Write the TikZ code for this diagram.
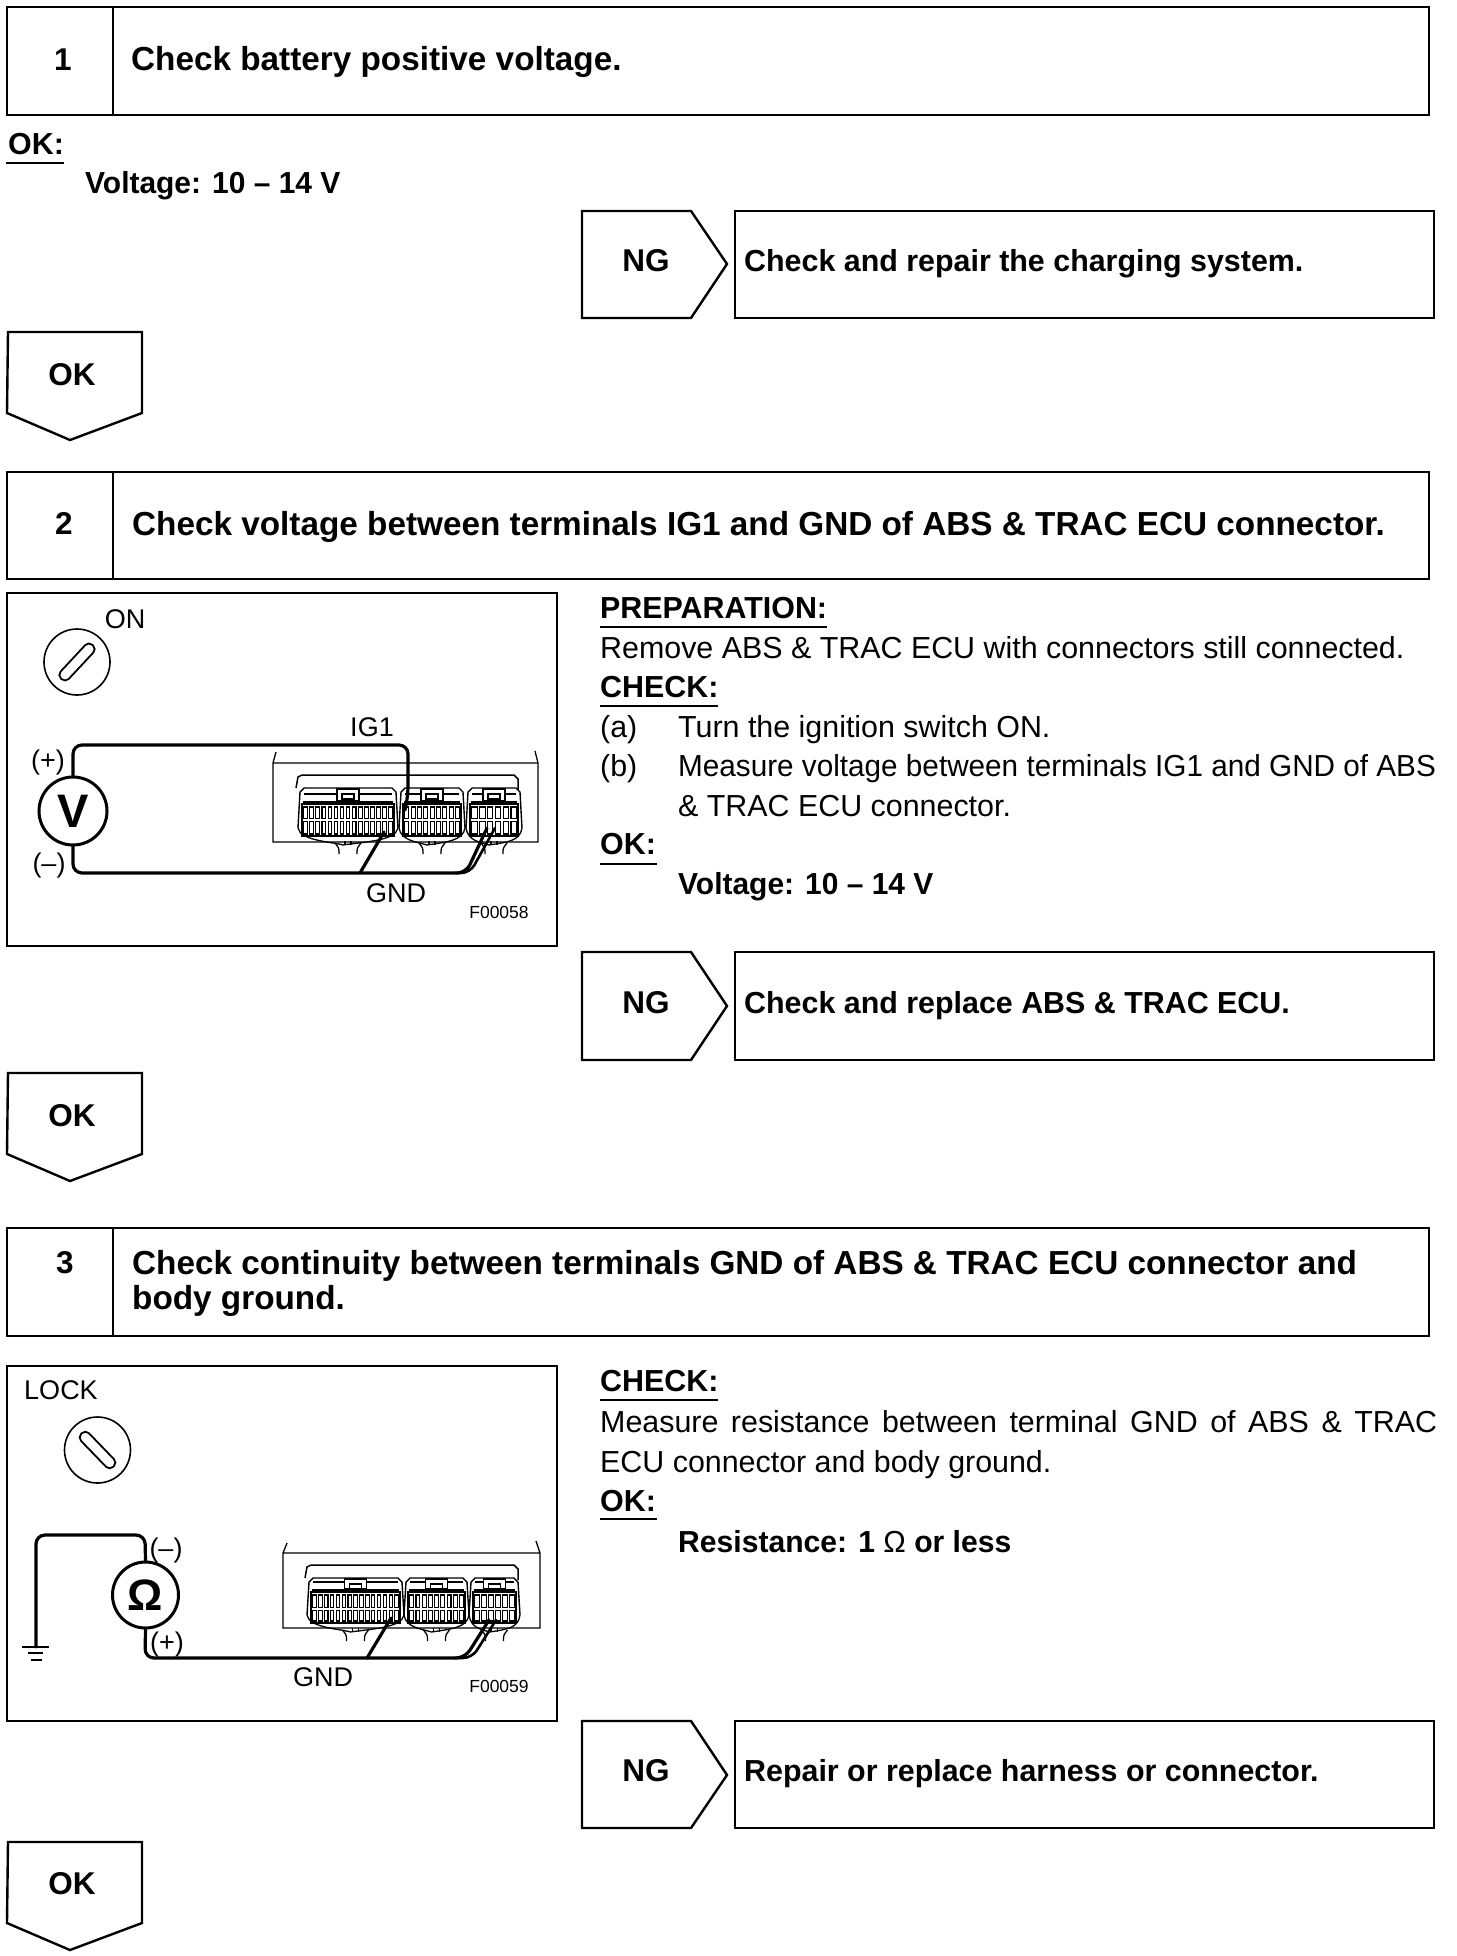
\documentclass[tikz,border=0pt]{standalone}
\usepackage{fontspec}
\setmainfont{Liberation Sans}
\begin{document}
\newcommand\fsz[1]{\fontsize{#1}{#1}\selectfont}
\newcommand\conn[7]{% xl xr ytop yrow ymid ybot n
  \draw[ink,line width=1.4] (#1-2,#6-8) -- (#1,#3+4) -- (#1+4,#3) -- (#2-4,#3) -- (#2,#3+4) -- (#2+2,#6-8);
  \draw[ink,line width=2.4] (#1+3,#4-4) -- (#2-3,#4-4);
  \draw[ink,line width=1.2] (#1+4,#4-12) -- (#2-4,#4-12);
  \pgfmathsetmacro\cmid{#1+0.5*(#2-#1)}
  \draw[ink,line width=1.2,fill=white] (\cmid-11,#3+1) rectangle (\cmid+11,#4-5);
  \draw[ink,line width=1.3] (\cmid-6,#3+6) rectangle (\cmid+6,#3+11);
  \draw[ink,line width=1.4] (#1+2,#4-2) rectangle (#2-2,#6);
  \foreach \i in {1,...,#7} {
    \pgfmathsetmacro\xa{#1+3.8+(\i-1)*(#2-#1-5)/#7}
    \pgfmathsetmacro\xb{#1+1.4+\i*(#2-#1-5)/#7}
    \draw[ink,line width=1.1] (\xa,#4+1) rectangle (\xb,#5-1.5);
    \draw[ink,line width=1.1] (\xa,#5+1.5) rectangle (\xb,#6-2);
  }
  \draw[ink,line width=1.3] (#1-2,#6-8) .. controls (#1,#6+5) and (\cmid-14,#6+6) .. (\cmid-5,#6+9)
     .. controls (\cmid+14,#6+6) and (#2,#6+5) .. (#2+2,#6-8);
  \draw[ink,line width=1.3] (\cmid-9,#6+18) .. controls (\cmid-9,#6+12) .. (\cmid-13,#6+7);
  \draw[ink,line width=1.3] (\cmid+9,#6+18) .. controls (\cmid+9,#6+12) .. (\cmid+13,#6+7);
  \draw[ink,line width=1.2] (\cmid-3,#6+9) -- (\cmid-3,#6+5) (\cmid+3,#6+9) -- (\cmid+3,#6+5);
}
\begin{tikzpicture}[x=1pt,y=-1pt,
  ink/.style={black},
  frame/.style={draw=black,line width=2.6,line join=miter},
  txt/.style={inner sep=0,anchor=west,text height=22pt,text depth=0pt,font=\fsz{30.4}},
  head/.style={inner sep=0,anchor=west,text height=24pt,text depth=0pt,font=\fsz{33.3}\bfseries},
  bold/.style={inner sep=0,anchor=west,text height=22pt,text depth=0pt,font=\fsz{30.4}\bfseries},
  tag/.style={inner sep=0,text height=23pt,text depth=0pt,font=\fsz{31.5}\bfseries},
  lab/.style={inner sep=0,text height=19.5pt,text depth=0pt,font=\fsz{27}},
  fig/.style={inner sep=0,text height=12pt,text depth=0pt,font=\fsz{17.5}},
  wire/.style={draw=black,line width=3.2,rounded corners=9,line cap=round},
  meter/.style={draw=black,line width=3,circle,inner sep=0,minimum size=68,font=\fsz{47}\bfseries},
  keyc/.style={draw=black,line width=1.6,circle,inner sep=0,minimum size=66},
  slot/.style={draw=black,line width=1.8,rectangle,rounded corners=5,inner sep=0,minimum width=46,minimum height=11},
  uline/.style={draw=black,line width=1.8}]
\useasboundingbox (0,0) rectangle (1456,1956);
\fill[white] (0,0) rectangle (1456,1956);

% ---- step headers
\draw[frame] (7,7) rectangle (1429,115) (113,7) -- (113,115);
\node[tag] (n1) at (63,59) {1};
\node[head] (t1) at (131,59) {Check battery positive voltage.};
\draw[frame] (7,472) rectangle (1429,579) (113,472) -- (113,579);
\node[tag] (n2) at (64,523) {2};
\node[head] (t2) at (132,523) {Check voltage between terminals IG1 and GND of ABS \& TRAC ECU connector.};
\draw[frame] (7,1228) rectangle (1429,1336) (113,1228) -- (113,1336);
\node[tag] (n3) at (65,1262) {3};
\node[head] (t3a) at (132,1262) {Check continuity between terminals GND of ABS \& TRAC ECU connector and};
\node[head] (t3b) at (132,1297) {body ground.};

% ---- step 1 text
\node[bold] (ok1) at (8,143) {OK:};
\draw[uline] (6,163) -- (64,163);
\node[bold] (v1) at (85,182) {\scalebox{.985}[1]{Voltage: 10 -- 14 V}};

% ---- NG arrows and result boxes
\draw[frame,line width=2.4] (582,211) -- (691,211) -- (727,264) -- (691,318) -- (582,318) -- cycle;
\node[tag] (ng1) at (646,260) {NG};
\draw[frame] (735,211) rectangle (1434,318);
\node[bold] (r1) at (744,260) {Check and repair the charging system.};

\draw[frame,line width=2.4] (582,952) -- (691,952) -- (727,1006) -- (691,1060) -- (582,1060) -- cycle;
\node[tag] (ng2) at (646,1002) {NG};
\draw[frame] (735,952) rectangle (1434,1060);
\node[bold] (r2) at (744,1002) {Check and replace ABS \& TRAC ECU.};

\draw[frame,line width=2.4] (582,1721) -- (691,1721) -- (727,1775) -- (691,1828) -- (582,1828) -- cycle;
\node[tag] (ng3) at (646,1770) {NG};
\draw[frame] (735,1721) rectangle (1434,1828);
\node[bold] (r3) at (744,1770) {Repair or replace harness or connector.};

% ---- OK arrows
\draw[frame,line width=2.4] (8,332) -- (142,332) -- (142,413) -- (70,440) -- (7,413) -- cycle;
\node[tag] (ok1b) at (72,374) {OK};
\draw[frame,line width=2.4] (8,1073) -- (142,1073) -- (142,1154) -- (70,1181) -- (7,1154) -- cycle;
\node[tag] (ok2b) at (72,1115) {OK};
\draw[frame,line width=2.4] (8,1842) -- (142,1842) -- (142,1923) -- (70,1950) -- (7,1923) -- cycle;
\node[tag] (ok3b) at (72,1883) {OK};

% ---- step 2 text
\node[bold] (p0) at (600,607) {PREPARATION:};
\draw[uline] (600,627) -- (827,627);
\node[txt] (p1) at (600,647) {Remove ABS \& TRAC ECU with connectors still connected.};
\node[bold] (p2) at (600,686) {CHECK:};
\draw[uline] (600,706) -- (718,706);
\node[txt] (p3) at (600,726) {(a)};
\node[txt] (p3b) at (678,726) {Turn the ignition switch ON.};
\node[txt] (p4) at (600,765) {(b)};
\node[txt] (p4b) at (678,765) {\scalebox{.977}[1]{Measure voltage between terminals IG1 and GND of ABS}};
\node[txt] (p5) at (678,805) {\& TRAC ECU connector.};
\node[bold] (p6) at (600,843) {OK:};
\draw[uline] (600,864) -- (657,864);
\node[bold] (p7) at (678,883) {\scalebox{.985}[1]{Voltage: 10 -- 14 V}};

% ---- step 3 text
\node[bold] (q0) at (600,1380) {CHECK:};
\draw[uline] (600,1400) -- (718,1400);
\node[txt] (q1) at (600,1421) {\makebox[837pt][s]{Measure resistance between terminal GND of ABS \& TRAC}};
\node[txt] (q2) at (600,1461) {ECU connector and body ground.};
\node[bold] (q3) at (600,1500) {OK:};
\draw[uline] (600,1519) -- (657,1519);
\node[bold] (q4) at (678,1541) {\scalebox{.99}[1]{Resistance: 1 \textmd{Ω} or less}};

% ---- figure 1
\draw[frame] (7,593) rectangle (557,946);
\node[lab] (on) at (125,619) {ON};
\node[keyc] (key1) at (77,662) {};
\node[slot,rotate=47] (slot1) at (77,662) {};
\draw[ink,line width=1.3] (276,752) -- (273,763) -- (273,842) -- (538,842) -- (538,763) -- (535,751) (273,763) -- (538,763);
\draw[ink,line width=1.5] (296,788) -- (298,777) -- (302,775) -- (514,775) -- (518,779) -- (518,790);
\conn{300}{396}{788}{806}{820}{836}{15}
\conn{401}{463}{788}{806}{820}{836}{9}
\conn{468}{520}{788}{806}{820}{836}{6}
\node[meter] (vm) at (73,811) {V};
\coordinate (ig) at (405,810);
\coordinate (gA) at (384,832);
\coordinate (gB) at (487,828);
\coordinate (gC) at (495,828);
\coordinate (jA) at (360,873);
\draw[wire] (vm.north) -- (73,745) -- (408,745) -- (408,795) -- (ig);
\draw[wire] (vm.south) -- (73,873) -- (466,873) -- (gB);
\draw[wire,line width=2.6] (455,873) -- (470,873) -- (gC);
\draw[wire] (jA) -- (gA);
\node[lab] (plus1) at (48,760) {(+)};
\node[lab] (minus1) at (49,863) {(--)};
\node[lab] (ig1) at (372,727) {IG1};
\node[lab] (gnd1) at (396,893) {GND};
\node[fig] (f1) at (499,912) {F00058};

% ---- figure 2
\draw[frame] (7,1366) rectangle (557,1721);
\node[lab] (lock) at (61,1390) {LOCK};
\node[keyc] (key2) at (97.5,1450) {};
\node[slot,rotate=-46] (slot2) at (97.5,1450) {};
\draw[ink,line width=1.3] (287,1543) -- (283,1553) -- (283,1628) -- (540,1628) -- (540,1553) -- (536,1541) (283,1553) -- (540,1553);
\draw[ink,line width=1.5] (305,1578) -- (307,1567) -- (311,1565) -- (514,1565) -- (518,1569) -- (518,1580);
\conn{309}{402}{1578}{1594}{1609}{1623}{15}
\conn{406}{467}{1578}{1594}{1609}{1623}{9}
\conn{471}{518}{1578}{1594}{1609}{1623}{6}
\node[meter,minimum size=66] (om) at (145.5,1595) {\fsz{44}Ω};
\coordinate (gnd) at (36,1647);
\coordinate (hA) at (391,1618);
\coordinate (hB) at (489,1620);
\coordinate (hC) at (496,1620);
\coordinate (kA) at (367,1658);
\draw[wire] (om.north) -- (145,1535) -- (36,1535) -- (gnd);
\draw[wire] (om.south) -- (145,1658) -- (465,1658) -- (hB);
\draw[wire,line width=2.6] (455,1658) -- (472,1658) -- (hC);
\draw[wire] (kA) -- (hA);
\draw[ink,line width=2.6] (22,1647) -- (49,1647) (28,1653) -- (43,1653);
\draw[ink,line width=2.2] (31,1660) -- (42,1660);
\node[lab] (minus2) at (166,1548) {(--)};
\node[lab] (plus2) at (167,1642) {(+)};
\node[lab] (gnd2) at (323,1677) {GND};
\node[fig] (f2) at (499,1686) {F00059};
\end{tikzpicture}
\end{document}
